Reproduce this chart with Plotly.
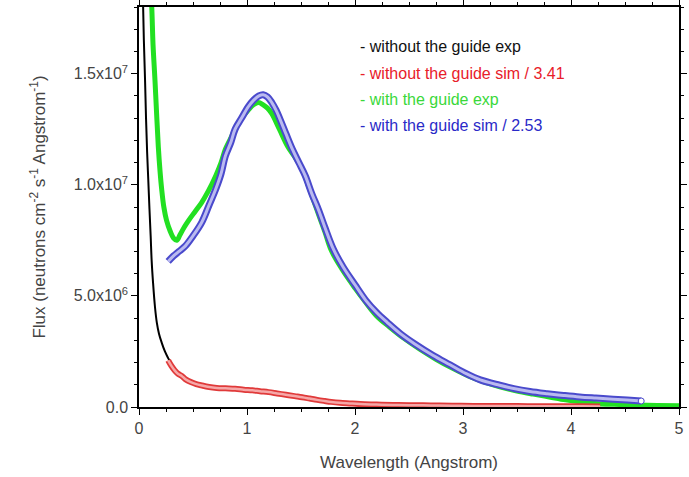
import plotly.graph_objects as go

# --- data (flux in units of 1e6 neutrons cm^-2 s^-1 Angstrom^-1) ---
black_x = [0.036, 0.045, 0.056, 0.065, 0.075, 0.086, 0.097, 0.108, 0.117, 0.13, 0.148, 0.165,
           0.185, 0.21, 0.24, 0.27, 0.31, 0.36, 0.42, 0.49, 0.56]
black_y = [18.5, 16.5, 14.7, 13.0, 11.5, 10.2, 8.9, 7.7, 6.6, 5.6, 4.5, 3.8,
           3.3, 2.9, 2.5, 2.2, 1.85, 1.55, 1.3, 1.1, 0.97]

red_x = [0.27, 0.30, 0.33, 0.36, 0.395, 0.43, 0.48, 0.53, 0.58, 0.65, 0.72, 0.80, 0.89, 0.97,
         1.05, 1.12, 1.20, 1.28, 1.36, 1.44, 1.51, 1.58, 1.65, 1.72, 1.78, 1.86, 1.95, 2.05,
         2.20, 2.35, 2.50, 2.70, 2.90, 3.10, 3.30, 3.50, 3.70, 3.90, 4.10, 4.27]
red_y = [2.1, 1.85, 1.65, 1.5, 1.4, 1.25, 1.12, 1.03, 0.97, 0.9, 0.86, 0.84, 0.82, 0.78,
         0.75, 0.71, 0.67, 0.61, 0.55, 0.49, 0.44, 0.38, 0.32, 0.27, 0.23, 0.19, 0.16, 0.13,
         0.11, 0.09, 0.08, 0.07, 0.06, 0.05, 0.045, 0.04, 0.035, 0.03, 0.03, 0.025]

green_x = [0.105, 0.118, 0.13, 0.148, 0.165, 0.179, 0.195, 0.21, 0.23, 0.255, 0.29, 0.32, 0.35,
           0.38, 0.42, 0.46, 0.52, 0.58, 0.64, 0.71, 0.76, 0.80, 0.85, 0.89, 0.95, 1.01, 1.06,
           1.105, 1.15, 1.19, 1.23, 1.30, 1.38, 1.45, 1.51, 1.58, 1.66, 1.72, 1.78, 1.88, 2.00,
           2.10, 2.20, 2.32, 2.45, 2.60, 2.75, 2.90, 3.05, 3.20, 3.35, 3.50, 3.65, 3.80, 3.95,
           4.10, 4.25, 4.40, 4.60, 4.80, 5.00]
green_y = [19.0, 18.0, 16.3, 14.7, 13.0, 11.7, 10.6, 9.8, 9.0, 8.4, 7.9, 7.6, 7.5,
           7.75, 8.1, 8.4, 8.8, 9.2, 9.7, 10.4, 11.0, 11.6, 12.1, 12.5, 13.0, 13.35, 13.6,
           13.7, 13.6, 13.45, 13.2, 12.5, 11.7, 11.2, 10.7, 9.8, 8.7, 7.9, 7.05, 6.2, 5.35,
           4.7, 4.1, 3.6, 3.1, 2.6, 2.15, 1.75, 1.4, 1.12, 0.9, 0.72, 0.58, 0.45, 0.32,
           0.22, 0.15, 0.12, 0.09, 0.07, 0.06]

blue_x = [0.27, 0.32, 0.37, 0.43, 0.50, 0.58, 0.65, 0.71, 0.76, 0.80, 0.85, 0.89, 0.95, 1.01,
          1.06, 1.11, 1.15, 1.19, 1.23, 1.27, 1.31, 1.36, 1.42, 1.48, 1.54, 1.60, 1.66, 1.72,
          1.80, 1.89, 2.00, 2.10, 2.20, 2.30, 2.42, 2.55, 2.72, 2.88, 3.03, 3.16, 3.34, 3.47,
          3.62, 3.78, 3.93, 4.08, 4.23, 4.39, 4.52, 4.65]
blue_y = [6.55, 6.8, 7.0, 7.25, 7.7, 8.3, 9.1, 9.8, 10.5, 11.3, 11.9, 12.5, 13.0, 13.5,
          13.8, 14.0, 14.05, 13.95, 13.7, 13.35, 12.9, 12.3, 11.6, 11.0, 10.4, 9.6, 8.9, 8.1,
          7.1, 6.3, 5.5, 4.8, 4.25, 3.8, 3.3, 2.85, 2.33, 1.9, 1.5, 1.22, 0.98, 0.83,
          0.70, 0.60, 0.52, 0.45, 0.40, 0.35, 0.31, 0.27]

scale = 1e6
legend_texts = ["- without the guide exp", "- without the guide sim / 3.41",
                "- with the guide exp", "- with the guide sim / 2.53"]
legend_colors = ["#111111", "#e8202a", "#3ad83a", "#2a2ac8"]

y_tickvals = [0, 5e6, 1e7, 1.5e7]
y_ticktext = ["0.0", "5.0x10<sup>6</sup>", "1.0x10<sup>7</sup>", "1.5x10<sup>7</sup>"]
x_tickvals = [0, 1, 2, 3, 4, 5]
x_range = [0, 5]
y_range = [0, 1.8e7]

FONT = "Liberation Sans, Arial, sans-serif"

fig = go.Figure()

fig.add_trace(go.Scatter(x=black_x, y=[v * scale for v in black_y], mode="lines",
                         line=dict(color="#000000", width=2), line_shape="spline",
                         showlegend=False))
fig.add_trace(go.Scatter(x=green_x, y=[v * scale for v in green_y], mode="lines",
                         line=dict(color="#22e022", width=5), line_shape="spline",
                         showlegend=False))
# simulated series drawn as a tube of open markers (outer edge + pale core)
red_yy = [v * scale for v in red_y]
fig.add_trace(go.Scatter(x=red_x, y=red_yy, mode="lines",
                         line=dict(color="#e03a3a", width=6), line_shape="spline",
                         showlegend=False))
fig.add_trace(go.Scatter(x=red_x, y=red_yy, mode="lines",
                         line=dict(color="#f6a8a8", width=2.5), line_shape="spline",
                         showlegend=False))
blue_yy = [v * scale for v in blue_y]
fig.add_trace(go.Scatter(x=blue_x, y=blue_yy, mode="lines",
                         line=dict(color="#4a4acc", width=7), line_shape="spline",
                         showlegend=False))
fig.add_trace(go.Scatter(x=blue_x, y=blue_yy, mode="lines",
                         line=dict(color="#babaf0", width=3), line_shape="spline",
                         showlegend=False))
fig.add_trace(go.Scatter(x=blue_x[-1:], y=blue_yy[-1:], mode="markers",
                         marker=dict(symbol="circle", size=6, color="white",
                                     line=dict(width=1, color="#4a4acc")), cliponaxis=False,
                         showlegend=False))

for i, (t, c) in enumerate(zip(legend_texts, legend_colors)):
    fig.add_annotation(text=t, xref="paper", yref="paper", x=0.405, y=0.9 - i * 0.0655,
                       xanchor="left", yanchor="middle", showarrow=False,
                       font=dict(family=FONT, size=16, color=c))

axis_common = dict(showline=True, mirror="allticks", linecolor="black", linewidth=1.5,
                   ticks="outside", tickcolor="black", ticklen=6, tickwidth=1.2,
                   showgrid=False, zeroline=False,
                   tickfont=dict(family=FONT, size=16, color="#444444"))

fig.update_layout(
    width=689, height=477,
    margin=dict(l=139, r=10, t=7, b=70),
    paper_bgcolor="white", plot_bgcolor="white",
    font=dict(family=FONT, size=16, color="#444444"),
    xaxis=dict(range=x_range, tickvals=x_tickvals, automargin="bottom",
               minor=dict(ticks="outside", dtick=0.25, ticklen=3, tickcolor="black"),
               title=dict(text="Wavelength (Angstrom)", standoff=20,
                          font=dict(family=FONT, size=17, color="#444444")),
               **axis_common),
    yaxis=dict(range=y_range, tickvals=y_tickvals, ticktext=y_ticktext, automargin="left",
               minor=dict(ticks="outside", dtick=1e6, ticklen=3, tickcolor="black"),
               title=dict(text="Flux (neutrons cm<sup>-2</sup> s<sup>-1</sup> Angstrom<sup>-1</sup>)",
                          standoff=24, font=dict(family=FONT, size=17, color="#444444")),
               **axis_common),
)

fig.write_html("out.html")
